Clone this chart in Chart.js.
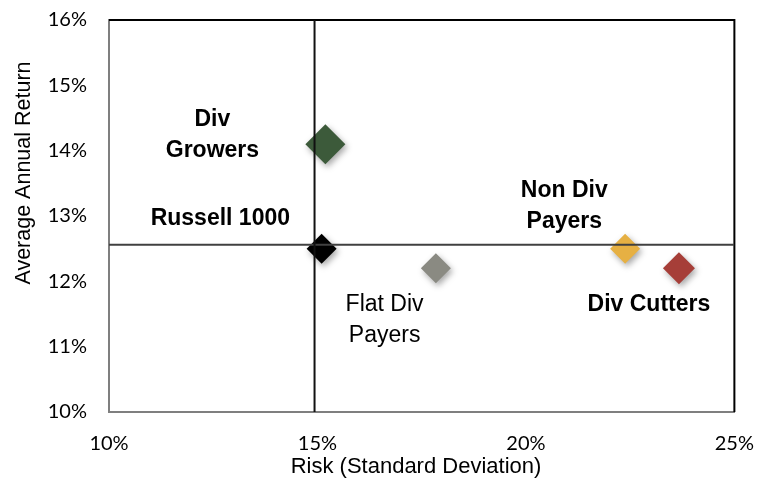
<!DOCTYPE html>
<html>
<head>
<meta charset="utf-8">
<script src="https://cdn.jsdelivr.net/npm/chart.js@4"></script>
<style>
  html, body { margin: 0; padding: 0; background: #fff; }
  #wrap { width: 766px; height: 492px; }
</style>
</head>
<body>
<div id="wrap"><canvas id="riskChart"></canvas></div>
<script>
// data (percent)
const groups = ['Div Growers', 'Russell 1000', 'Flat Div Payers', 'Non Div Payers', 'Div Cutters'];
const riskValues = [15.19, 15.10, 17.84, 22.38, 23.67];
const returnValues = [14.10, 12.50, 12.20, 12.50, 12.20];
const markerColors = ['#3c5a3a', '#000000', '#8a8a82', '#e6b043', '#a63e38'];
const markerSizes = [20, 15, 15, 15, 16];

// quadrant lines (Russell 1000 reference)
const benchmarkRisk = 14.93;
const benchmarkReturn = 12.56;

// label text and where its first line sits (data units)
const labelLines = [['Div', 'Growers'], ['Russell 1000'], ['Flat Div', 'Payers'], ['Non Div', 'Payers'], ['Div Cutters']];
const labelX = [12.48, 12.67, 16.61, 20.92, 22.95];
const labelY = [14.47, 12.955, 11.65, 13.39, 11.64];
const labelBold = [true, true, false, true, true];

const xTicks = [10, 15, 20, 25];
const yTicks = [10, 11, 12, 13, 14, 15, 16];

const xTitle = 'Risk (Standard Deviation)';
const yTitle = 'Average Annual Return';

const tickFont = { family: 'Lato', size: 20 };

// dark frame on top and right like the original
const framePlugin = {
    id: 'frame',
    beforeDatasetsDraw(chart) {
        const a = chart.chartArea, ctx = chart.ctx;
        ctx.save();
        ctx.strokeStyle = '#000';
        ctx.lineWidth = 2;
        ctx.beginPath();
        ctx.moveTo(a.left, a.top);
        ctx.lineTo(a.right, a.top);
        ctx.lineTo(a.right, a.bottom);
        ctx.stroke();
        ctx.restore();
    }
};

// text labels next to the markers, plus the axis titles
const labelPlugin = {
    id: 'pointLabels',
    afterDatasetsDraw(chart) {
        const ctx = chart.ctx;
        const xs = chart.scales.x, ys = chart.scales.y;
        ctx.save();
        ctx.fillStyle = '#000';
        ctx.textAlign = 'center';
        ctx.textBaseline = 'middle';
        labelLines.forEach((lines, i) => {
            ctx.font = (labelBold[i] ? 'bold ' : '') + '23px "Liberation Sans", Arial';
            const px = xs.getPixelForValue(labelX[i]);
            const py = ys.getPixelForValue(labelY[i]);
            lines.forEach((t, j) => ctx.fillText(t, px, py + j * 31));
        });

        // axis titles (the original sits them a bit off centre)
        ctx.font = '22px "Liberation Sans", Arial';
        ctx.fillText(xTitle, 416, 467);
        ctx.font = '21.5px "Liberation Sans", Arial';
        ctx.translate(24, 173);
        ctx.rotate(-Math.PI / 2);
        ctx.fillText(yTitle, 0, 0);
        ctx.restore();
    }
};

// soft shadow under the diamonds
const shadowPlugin = {
    id: 'markerShadow',
    beforeDatasetDraw(chart, args) {
        if (args.index !== 2) return;
        const ctx = chart.ctx;
        ctx.save();
        ctx.shadowColor = 'rgba(0,0,0,0.35)';
        ctx.shadowBlur = 6;
        ctx.shadowOffsetX = 2;
        ctx.shadowOffsetY = 3;
    },
    afterDatasetDraw(chart, args) {
        if (args.index !== 2) return;
        chart.ctx.restore();
    }
};

const ctx = document.getElementById('riskChart').getContext('2d');
new Chart(ctx, {
    type: 'scatter',
    data: {
        datasets: [
            {
                label: 'vertical',
                type: 'line',
                data: [{ x: benchmarkRisk, y: yTicks[0] }, { x: benchmarkRisk, y: yTicks[yTicks.length - 1] }],
                borderColor: '#111',
                borderWidth: 2,
                pointRadius: 0,
                showLine: true
            },
            {
                label: 'horizontal',
                type: 'line',
                data: [{ x: xTicks[0], y: benchmarkReturn }, { x: xTicks[xTicks.length - 1], y: benchmarkReturn }],
                borderColor: '#404040',
                borderWidth: 2,
                pointRadius: 0,
                showLine: true
            },
            {
                label: 'groups',
                data: groups.map((g, i) => ({ x: riskValues[i], y: returnValues[i] })),
                pointStyle: 'rectRot',
                pointRadius: markerSizes,
                pointHoverRadius: markerSizes,
                backgroundColor: markerColors,
                borderColor: markerColors,
                borderWidth: 0
            }
        ]
    },
    options: {
        responsive: true,
        maintainAspectRatio: false,
        animation: false,
        layout: { padding: { top: 14, right: 19, left: 0, bottom: 0 } },
        plugins: {
            legend: { display: false },
            tooltip: { enabled: false }
        },
        scales: {
            x: {
                type: 'linear',
                min: 10,
                max: 25,
                afterFit: s => { s.height = 80; },
                afterBuildTicks: s => { s.ticks = xTicks.map(v => ({ value: v })); },
                grid: { display: false },
                border: { display: true, color: '#7f7f7f', width: 2 },
                ticks: { font: tickFont, color: '#000', padding: 12, callback: v => v + '%' }
            },
            y: {
                type: 'linear',
                min: 10,
                max: 16,
                afterFit: s => { s.width = 109; s.paddingTop = 0; s.paddingBottom = 0; },
                afterBuildTicks: s => { s.ticks = yTicks.map(v => ({ value: v })); },
                grid: { display: false },
                border: { display: true, color: '#7f7f7f', width: 2 },
                ticks: { font: tickFont, color: '#000', padding: 14, callback: v => v + '%' }
            }
        }
    },
    plugins: [framePlugin, shadowPlugin, labelPlugin]
});
</script>
</body>
</html>
